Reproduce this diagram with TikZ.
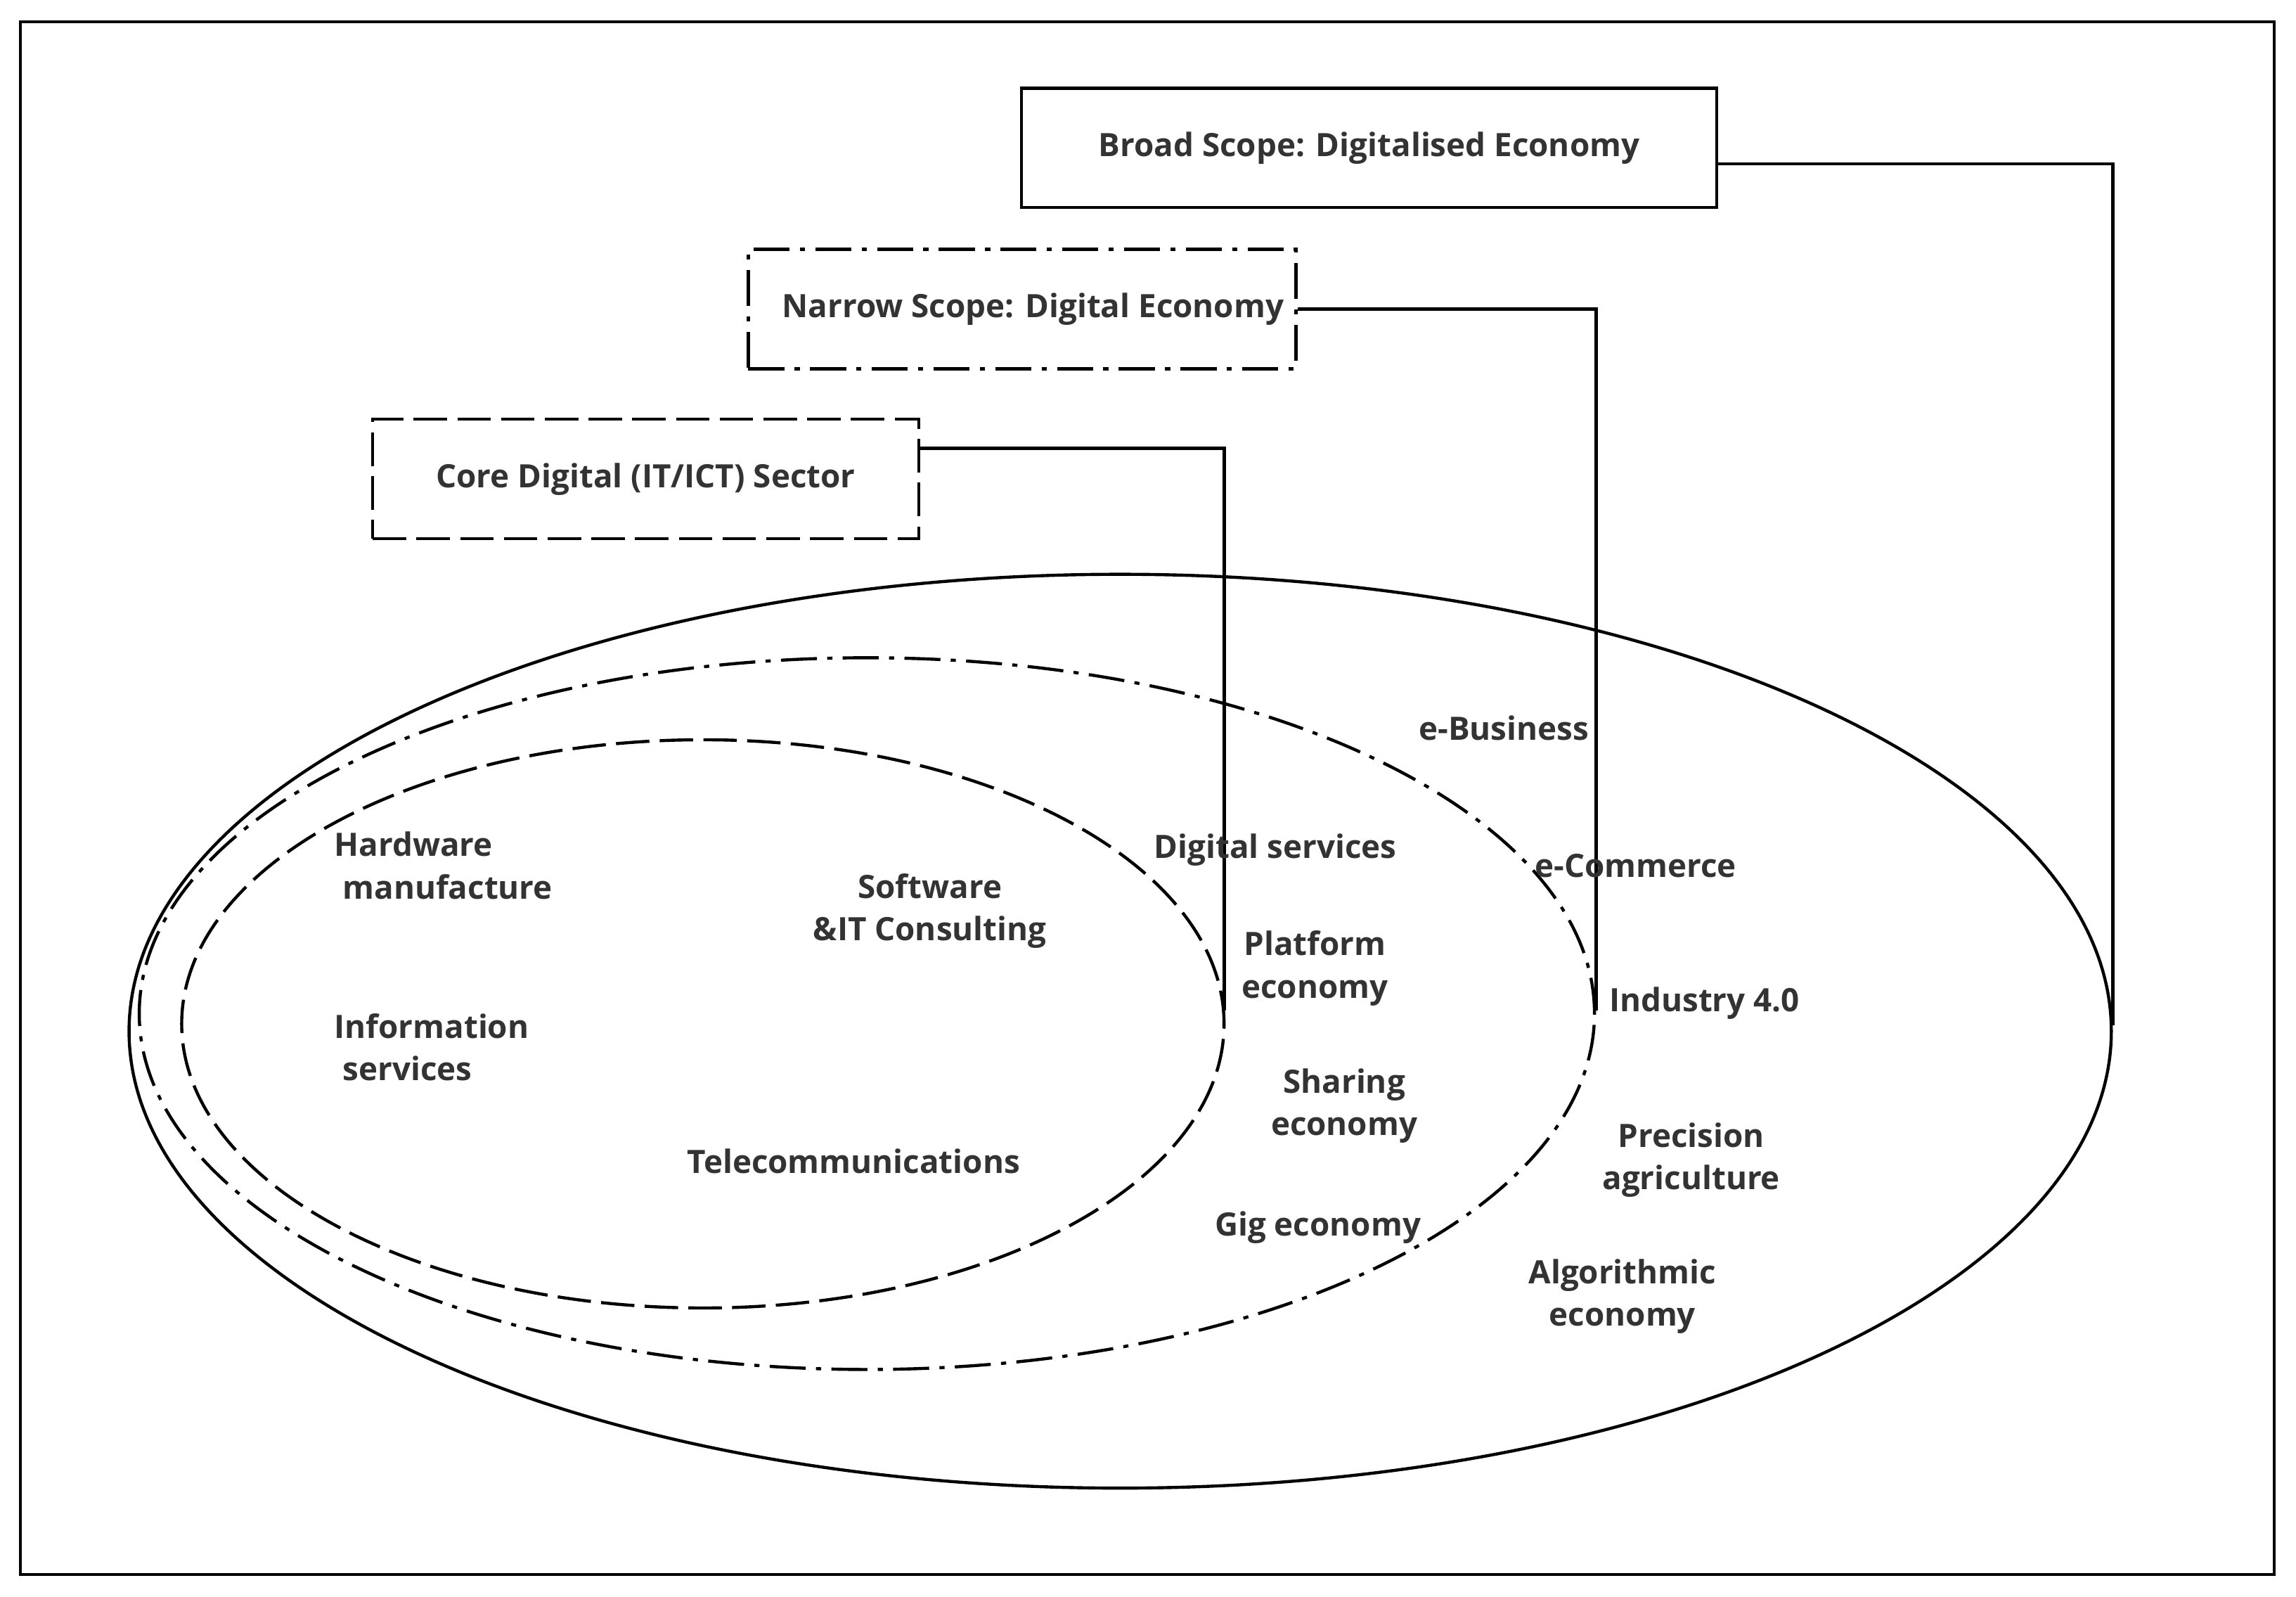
\documentclass[tikz,border=0pt]{standalone}
\usepackage{fontspec}
\setmainfont{Open Sans}
\begin{document}
\begin{tikzpicture}[x=0.02cm,y=-0.02cm,
  lbl/.style={font=\fontsize{12.5}{16.5}\selectfont\bfseries,text=black!80,align=center,inner sep=0pt},
  box/.style={draw,line width=1.2pt,minimum height=1.63cm,font=\fontsize{12.5}{16.5}\selectfont\bfseries,text=black!80},
  dsh/.style={dash pattern=on 13pt off 4pt},
  dshdot/.style={dash pattern=on 14pt off 4pt on 2pt off 4pt},
  ln/.style={line width=1.2pt}]
\useasboundingbox (0,0) rectangle (1568,1090);
\draw[ln] (14,15) rectangle (1553,1075);
% boxes
\node[box,minimum width=9.5cm] (broad) at (935,101) {\raisebox{-0.18cm}{Broad Scope: Digitalised Economy}\hspace{0.5cm}};
\node[box,dshdot,minimum width=7.48cm] (narrow) at (698,211) {\hspace{0.3cm}Narrow Scope: Digital Economy};
\node[box,dsh,minimum width=7.46cm] (core) at (441,327) {\raisebox{-0.18cm}{Core Digital (IT/ICT) Sector}};
% ellipses
\draw[ln] (765,704) ellipse [x radius=13.54cm, y radius=6.24cm];
\draw[ln,dshdot] (592,692) ellipse [x radius=9.94cm, y radius=4.86cm];
\draw[ln,dsh] (480,699) ellipse [x radius=7.12cm, y radius=3.88cm];
% connectors
\coordinate (b1) at (1443,700);
\coordinate (n1) at (1090,690);
\coordinate (c1) at (836,690);
\draw[ln] ([yshift=-0.22cm]broad.east) -| (b1);
\draw[ln] (narrow.east) -| (n1);
\draw[ln] ([yshift=0.42cm]core.east) -| (c1);
% labels
\node[lbl,align=left,anchor=west] (hw) at (228,591) {Hardware\\\ manufacture};
\node[lbl] (sw) at (635,622) {Software\\\&IT Consulting};
\node[lbl,align=left,anchor=west] (is) at (228,715) {Information\\\ services};
\node[lbl] (tc) at (583,793) {Telecommunications};
\node[lbl] (ds) at (871,580) {Digital services};
\node[lbl] (pe) at (898,661) {Platform\\economy};
\node[lbl] (se) at (918,755) {Sharing\\economy};
\node[lbl] (ge) at (900,838) {Gig economy};
\node[lbl] (eb) at (1027,497) {e-Business};
\node[lbl] (ec) at (1117,591) {e-Commerce};
\node[lbl] (i4) at (1164,685) {Industry 4.0};
\node[lbl] (pa) at (1155,792) {Precision\\agriculture};
\node[lbl] (ae) at (1108,885) {Algorithmic\\economy};
\end{tikzpicture}
\end{document}
